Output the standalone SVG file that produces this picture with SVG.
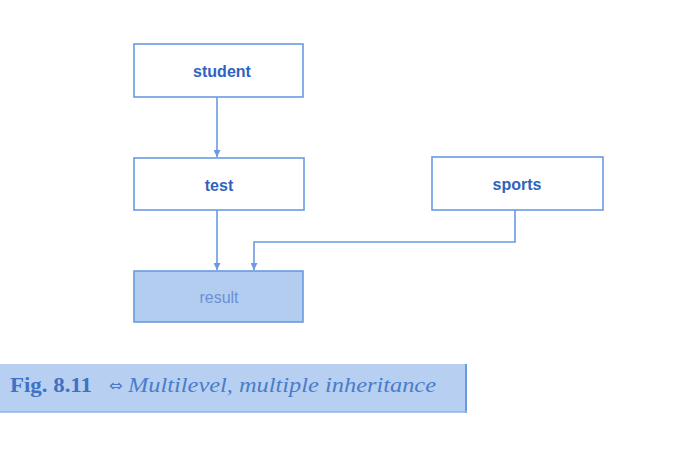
<svg xmlns="http://www.w3.org/2000/svg" width="676" height="467" viewBox="0 0 676 467">
<defs>
<style>
.box{fill:#ffffff;stroke:#6a9ae0;stroke-width:1.6}
.dark{fill:#b3cdf0;stroke:#6a9ae0;stroke-width:1.6}
.lbl{font-family:"Liberation Sans",Arial,sans-serif;font-size:16px;font-weight:bold;fill:#2f63c0;text-anchor:middle}
.con{fill:none;stroke:#6a9ae0;stroke-width:1.6}
.cap{font-family:"Liberation Serif","Times New Roman",serif;font-size:21px}
</style>
<marker id="ah" viewBox="0 0 10 10" refX="10" refY="5" markerWidth="7" markerHeight="7" orient="auto" markerUnits="userSpaceOnUse">
<path d="M0,0 L10,5 L0,10 z" fill="#6a9ae0"/>
</marker>
</defs>
<rect width="676" height="467" fill="#ffffff"/>
<g id="student"><rect class="box" x="134" y="44" width="169" height="53"/><text class="lbl" x="222" y="77">student</text></g>
<g id="test"><rect class="box" x="134" y="158" width="170" height="52"/><text class="lbl" x="219" y="191">test</text></g>
<g id="sports"><rect class="box" x="432" y="157" width="171" height="53"/><text class="lbl" x="517" y="190">sports</text></g>
<g id="result"><rect class="dark" x="134" y="271" width="169" height="51"/><text class="lbl" x="219" y="303" style="fill:#6a90d4;font-weight:normal">result</text></g>
<g id="connectors">
<path class="con" d="M217,97 V157" marker-end="url(#ah)"/>
<path class="con" d="M217,210 V270" marker-end="url(#ah)"/>
<path class="con" d="M515,210 V242 H254 V270" marker-end="url(#ah)"/>
</g>
<g id="caption">
<rect x="0" y="364" width="467" height="48" fill="#b7d0f2"/>
<line x1="466" y1="364" x2="466" y2="413" stroke="#6a9ae0" stroke-width="2"/>
<line x1="0" y1="412" x2="467" y2="412" stroke="#8fb3e8" stroke-width="1.5"/>
<text class="cap" x="10" y="392" font-weight="bold" fill="#3f72c4" textLength="82" lengthAdjust="spacingAndGlyphs">Fig. 8.11</text>
<text x="109" y="391" font-family="'DejaVu Sans',sans-serif" font-size="16" fill="#4a7cc9">⇔</text>
<text class="cap" x="128" y="392" font-style="italic" fill="#4a7cc9" textLength="308" lengthAdjust="spacingAndGlyphs">Multilevel, multiple inheritance</text>
</g>
</svg>
